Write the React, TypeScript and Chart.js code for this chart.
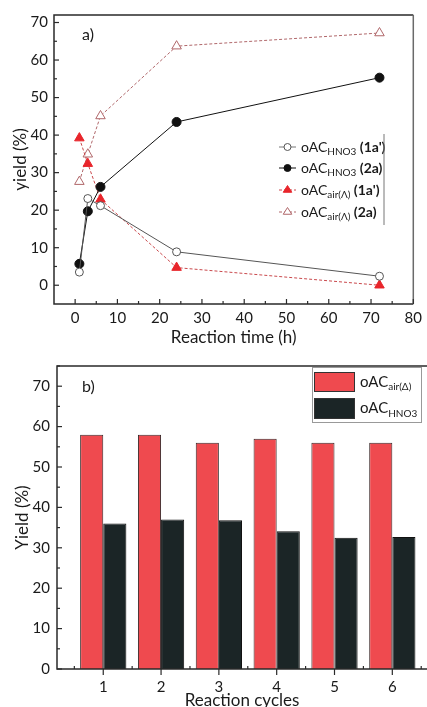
import React, { useEffect, useRef } from "react";
import { Chart, registerables } from "chart.js";
Chart.register(...registerables);

// ---------- Data: panel a ----------
const timeHours = [1, 3, 6, 24, 72];
const hno3_1a = [3.5, 23.1, 21.2, 8.9, 2.4];
const hno3_2a = [5.7, 19.7, 26.2, 43.5, 55.3];
const air_1a = [39.2, 32.4, 22.9, 4.7, 0];
const air_2a = [27.6, 34.9, 45.1, 63.7, 67.2];
const topXTicks = [0, 10, 20, 30, 40, 50, 60, 70, 80];
const topYTicks = [0, 10, 20, 30, 40, 50, 60, 70];

// ---------- Data: panel b ----------
const cycles = [1, 2, 3, 4, 5, 6];
const airYield = [58, 58, 56, 57, 56, 56];
const hno3Yield = [36.0, 37.0, 36.8, 34.1, 32.5, 32.7];
const botYTicks = [0, 10, 20, 30, 40, 50, 60, 70];

const FONT = "Lato, 'Open Sans', sans-serif";
const TXT = "#1a1a1a";

const RED = "#E8252B";
const RED_LINE = "#C9484C";
const PINK = "#B0676A";
const BAR_RED = "#EF4A4F";
const BAR_DARK = "#1B2526";

type Seg = { t: string; sub?: boolean; bold?: boolean };

function drawRich(ctx: CanvasRenderingContext2D, x: number, y: number, segs: Seg[], size: number) {
  ctx.textBaseline = "middle";
  ctx.textAlign = "left";
  ctx.fillStyle = TXT;
  for (const s of segs) {
    if (s.sub) {
      ctx.font = `${Math.round(size * 0.68)}px ${FONT}`;
      ctx.fillText(s.t, x, y + size * 0.32);
    } else {
      ctx.font = `${s.bold ? "bold " : ""}${size}px ${FONT}`;
      ctx.fillText(s.t, x, y);
    }
    x += ctx.measureText(s.t).width;
  }
}

function drawMarker(ctx: CanvasRenderingContext2D, kind: string, x: number, y: number, r: number, fill: string, stroke: string) {
  ctx.beginPath();
  if (kind === "circle") {
    ctx.arc(x, y, r, 0, Math.PI * 2);
  } else {
    const h = r * 1.5;
    ctx.moveTo(x, y - r);
    ctx.lineTo(x + r * 0.95, y + h - r);
    ctx.lineTo(x - r * 0.95, y + h - r);
    ctx.closePath();
  }
  ctx.fillStyle = fill;
  ctx.fill();
  ctx.strokeStyle = stroke;
  ctx.lineWidth = 1;
  ctx.stroke();
}

const topLegend = [
  { segs: [{ t: "oAC" }, { t: "HNO3", sub: true }, { t: " (1a')", bold: true }], kind: "circle", fill: "#fff", stroke: "#555", line: "#777", dash: [] as number[] },
  { segs: [{ t: "oAC" }, { t: "HNO3", sub: true }, { t: " (2a)", bold: true }], kind: "circle", fill: "#111", stroke: "#111", line: "#111", dash: [] as number[] },
  { segs: [{ t: "oAC" }, { t: "air(Λ)", sub: true }, { t: " (1a')", bold: true }], kind: "tri", fill: RED, stroke: RED, line: RED_LINE, dash: [3, 2] },
  { segs: [{ t: "oAC" }, { t: "air(Λ)", sub: true }, { t: " (2a)", bold: true }], kind: "tri", fill: "#fff", stroke: PINK, line: PINK, dash: [3, 2] },
];

const topPlugin = {
  id: "topFrame",
  afterDraw(chart: any) {
    const { ctx, chartArea, scales } = chart;
    const { left, right, top, bottom } = chartArea;
    const x = scales.x, y = scales.y;
    ctx.save();
    ctx.lineWidth = 1.5;
    ctx.strokeStyle = "#2a2a2a";
    ctx.beginPath();
    ctx.moveTo(right, top); ctx.lineTo(left, top); ctx.lineTo(left, bottom); ctx.lineTo(right, bottom);
    ctx.stroke();
    ctx.strokeStyle = "#6a6a6a";
    ctx.beginPath(); ctx.moveTo(right, top); ctx.lineTo(right, bottom); ctx.stroke();
    ctx.strokeStyle = "#2a2a2a";
    ctx.lineWidth = 1.2;
    for (let v = 0; v <= 80; v += 5) {
      const px = x.getPixelForValue(v);
      const len = v % 10 === 0 ? 5 : 3;
      ctx.beginPath(); ctx.moveTo(px, bottom); ctx.lineTo(px, bottom - len); ctx.stroke();
    }
    for (let v = 0; v <= 70; v += 5) {
      const py = y.getPixelForValue(v);
      const len = v % 10 === 0 ? 5 : 3;
      ctx.beginPath(); ctx.moveTo(left, py); ctx.lineTo(left + len, py); ctx.stroke();
    }
    // panel label
    ctx.font = `16px ${FONT}`;
    ctx.fillStyle = TXT;
    ctx.textBaseline = "middle";
    ctx.textAlign = "left";
    ctx.fillText("a)", 82, 35);
    // legend
    const ys = [147, 168, 190, 212];
    topLegend.forEach((it, i) => {
      const yy = ys[i];
      ctx.strokeStyle = it.line;
      ctx.lineWidth = 1;
      ctx.setLineDash(it.dash);
      ctx.beginPath(); ctx.moveTo(279, yy); ctx.lineTo(296, yy); ctx.stroke();
      ctx.setLineDash([]);
      drawMarker(ctx, it.kind, 287.5, yy, it.kind === "circle" ? 3.5 : 4.5, it.fill, it.stroke);
      drawRich(ctx, 301, yy, it.segs as Seg[], 14);
    });
    ctx.strokeStyle = "#777";
    ctx.lineWidth = 1;
    ctx.beginPath(); ctx.moveTo(384, 134); ctx.lineTo(384, 225); ctx.stroke();
    ctx.restore();
  },
};

const botLegend = [
  { segs: [{ t: "oAC" }, { t: "air(Δ)", sub: true }], fill: BAR_RED },
  { segs: [{ t: "oAC" }, { t: "HNO3", sub: true }], fill: BAR_DARK },
];

const botPlugin = {
  id: "botFrame",
  afterDraw(chart: any) {
    const { ctx, chartArea, scales } = chart;
    const { left, right, top, bottom } = chartArea;
    const x = scales.x, y = scales.y;
    ctx.save();
    ctx.lineWidth = 1.5;
    ctx.strokeStyle = "#2a2a2a";
    ctx.beginPath();
    ctx.moveTo(right, top); ctx.lineTo(left, top); ctx.lineTo(left, bottom); ctx.lineTo(right, bottom);
    ctx.stroke();
    ctx.lineWidth = 1.2;
    for (const c of cycles) {
      const px = x.getPixelForValue(c);
      ctx.beginPath(); ctx.moveTo(px, bottom); ctx.lineTo(px, bottom + 6); ctx.stroke();
      const pm = x.getPixelForValue(c - 0.5);
      ctx.beginPath(); ctx.moveTo(pm, bottom); ctx.lineTo(pm, bottom - 3); ctx.stroke();
    }
    const pm7 = x.getPixelForValue(6.5);
    ctx.beginPath(); ctx.moveTo(pm7, bottom); ctx.lineTo(pm7, bottom - 3); ctx.stroke();
    for (let v = 0; v <= 75; v += 5) {
      const py = y.getPixelForValue(v);
      const len = v % 10 === 0 ? 5 : 3;
      ctx.beginPath(); ctx.moveTo(left, py); ctx.lineTo(left + len, py); ctx.stroke();
    }
    ctx.font = `16px ${FONT}`;
    ctx.fillStyle = TXT;
    ctx.textBaseline = "middle";
    ctx.textAlign = "left";
    ctx.fillText("b)", 82, 37);
    // legend box
    ctx.fillStyle = "#fff";
    ctx.fillRect(312, 17, 110, 55);
    ctx.strokeStyle = "#999";
    ctx.lineWidth = 1;
    ctx.strokeRect(312.5, 17.5, 109, 55);
    const sy = [[22, 42], [48, 69]];
    botLegend.forEach((it, i) => {
      ctx.fillStyle = it.fill;
      ctx.fillRect(314, sy[i][0], 41, sy[i][1] - sy[i][0]);
      ctx.strokeStyle = "#333";
      ctx.strokeRect(314.5, sy[i][0] + 0.5, 40, sy[i][1] - sy[i][0] - 1);
      drawRich(ctx, 360, (sy[i][0] + sy[i][1]) / 2, it.segs as Seg[], 15);
    });
    ctx.restore();
  },
};

function toXY(xs: number[], ys: number[]) {
  return xs.map((x, i) => ({ x, y: ys[i] }));
}

export default function App() {
  const topRef = useRef<HTMLCanvasElement>(null);
  const botRef = useRef<HTMLCanvasElement>(null);

  useEffect(() => {
    document.body.style.margin = "0";
    const tickFont = { family: FONT, size: 15 };
    const titleFont = { family: FONT, size: 17 };

    const top = new Chart(topRef.current!, {
      type: "line",
      data: {
        datasets: [
          {
            data: toXY(timeHours, hno3_1a),
            borderColor: "#555", borderWidth: 1,
            pointStyle: "circle", pointRadius: 4, pointBackgroundColor: "#fff", pointBorderColor: "#555", pointBorderWidth: 1,
          },
          {
            data: toXY(timeHours, hno3_2a),
            borderColor: "#111", borderWidth: 1,
            pointStyle: "circle", pointRadius: 4.5, pointBackgroundColor: "#111", pointBorderColor: "#111",
          },
          {
            data: toXY(timeHours, air_1a),
            borderColor: RED_LINE, borderWidth: 1, borderDash: [3, 2],
            pointStyle: "triangle", pointRadius: 5.5, pointBackgroundColor: RED, pointBorderColor: RED,
          },
          {
            data: toXY(timeHours, air_2a),
            borderColor: PINK, borderWidth: 1, borderDash: [3, 2],
            pointStyle: "triangle", pointRadius: 5.5, pointBackgroundColor: "#fff", pointBorderColor: PINK,
          },
        ],
      },
      options: {
        responsive: false,
        animation: false,
        layout: { padding: { top: 12, right: 9, left: 0, bottom: 0 } },
        plugins: { legend: { display: false }, tooltip: { enabled: false } },
        scales: {
          x: {
            type: "linear", min: -5, max: 80,
            afterBuildTicks: (s: any) => { s.ticks = topXTicks.map((v) => ({ value: v })); },
            afterFit: (s: any) => { s.height = 46; },
            grid: { display: false, drawTicks: false },
            border: { display: false },
            ticks: { font: tickFont, color: TXT, padding: 5, maxRotation: 0, autoSkip: false },
            title: { display: true, text: "Reaction time (h)", font: titleFont, color: TXT, padding: { top: 0, bottom: 2 } },
          },
          y: {
            type: "linear", min: -5, max: 72,
            afterBuildTicks: (s: any) => { s.ticks = topYTicks.map((v) => ({ value: v })); },
            afterFit: (s: any) => { s.width = 54; },
            grid: { display: false, drawTicks: false },
            border: { display: false },
            ticks: { font: tickFont, color: TXT, padding: 6, autoSkip: false },
            title: { display: true, text: "yield (%)", font: titleFont, color: TXT, padding: { top: 10, bottom: 0 } },
          },
        },
      },
      plugins: [topPlugin],
    } as any);

    const bot = new Chart(botRef.current!, {
      type: "bar",
      data: {
        datasets: [
          { data: toXY(cycles, airYield), backgroundColor: BAR_RED, borderColor: "#3a2a2a", borderWidth: 1, categoryPercentage: 0.8, barPercentage: 1 },
          { data: toXY(cycles, hno3Yield), backgroundColor: BAR_DARK, borderColor: "#111", borderWidth: 1, categoryPercentage: 0.8, barPercentage: 1 },
        ],
      },
      options: {
        responsive: false,
        animation: false,
        layout: { padding: { top: 12, right: 0, left: 0, bottom: 0 } },
        plugins: { legend: { display: false }, tooltip: { enabled: false } },
        scales: {
          x: {
            type: "linear", min: 0.2, max: 6.6, offset: false,
            afterBuildTicks: (s: any) => { s.ticks = cycles.map((v) => ({ value: v })); },
            afterFit: (s: any) => { s.height = 38; },
            grid: { display: false, drawTicks: false },
            border: { display: false },
            ticks: { font: tickFont, color: TXT, padding: 9, maxRotation: 0, autoSkip: false },
            title: { display: true, text: "Reaction cycles", font: titleFont, color: TXT, padding: { top: 0, bottom: -4 } },
          },
          y: {
            type: "linear", min: 0, max: 75,
            afterBuildTicks: (s: any) => { s.ticks = botYTicks.map((v) => ({ value: v })); },
            afterFit: (s: any) => { s.width = 57; },
            grid: { display: false, drawTicks: false },
            border: { display: false },
            ticks: { font: tickFont, color: TXT, padding: 7, autoSkip: false },
            title: { display: true, text: "Yield (%)", font: titleFont, color: TXT, padding: { top: 12, bottom: 0 } },
          },
        },
      },
      plugins: [botPlugin],
    } as any);

    return () => { top.destroy(); bot.destroy(); };
  }, []);

  return (
    <div style={{ position: "absolute", left: 0, top: 0, width: 427, height: 707, background: "#fff" }}>
      <canvas ref={topRef} width={427} height={350} style={{ display: "block", width: 427, height: 350 }} />
      <canvas ref={botRef} width={427} height={357} style={{ display: "block", width: 427, height: 357 }} />
    </div>
  );
}
